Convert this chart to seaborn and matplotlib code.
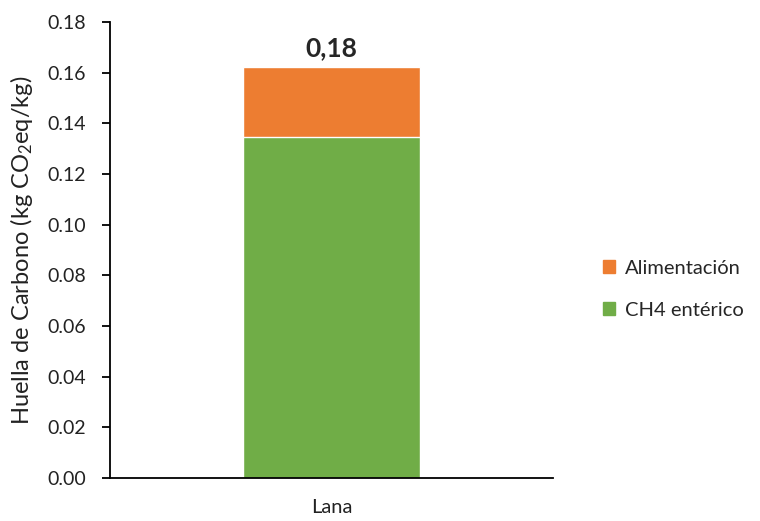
import matplotlib
matplotlib.use("Agg")
import matplotlib.pyplot as plt
from matplotlib.patches import Patch
import seaborn as sns



# Data
categories = ["Lana"]
ch4_enterico = [0.1346]
alimentacion = [0.0276]
total_labels = ["0,18"]
series_names = ["Alimentación", "CH4 entérico"]
y_ticks = [0.00, 0.02, 0.04, 0.06, 0.08, 0.10, 0.12, 0.14, 0.16, 0.18]

totals = [a + b for a, b in zip(ch4_enterico, alimentacion)]

color_alim = "#ED7D31"
color_ch4 = "#70AD47"



# Style
sns.set_style("white")
plt.rcParams["font.family"] = ["Lato", "DejaVu Sans"]
plt.rcParams["mathtext.default"] = "regular"



# Figure and axes
fig = plt.figure(figsize=(7.6, 5.21), dpi=100)
ax = fig.add_axes([0.1447, 0.0825, 0.5829, 0.8753])



# Stacked bar: total in orange, green on top of it from zero
sns.barplot(x=categories, y=totals, color=color_alim, width=0.4,
            saturation=1, ax=ax)
sns.barplot(x=categories, y=ch4_enterico, color=color_ch4, width=0.4,
            saturation=1, ax=ax)

for i, label in enumerate(total_labels):
    ax.annotate(label, xy=(i, totals[i]), xytext=(0, 5),
                textcoords="offset points", ha="center", va="bottom",
                fontsize=19, fontweight="bold")



# Axes formatting
ax.set_xlim(-0.5, 0.5)
ax.set_ylim(0, 0.18)
ax.set_yticks(y_ticks)
ax.set_yticklabels([f"{t:.2f}" for t in y_ticks])
ax.set_ylabel("Huella de Carbono (kg CO$_2$eq/kg)", fontsize=17, labelpad=9,
              color="#222222")
ax.set_xlabel("")

for side in ["top", "right"]:
    ax.spines[side].set_visible(False)
for side in ["left", "bottom"]:
    ax.spines[side].set_color("black")
    ax.spines[side].set_linewidth(1.3)

ax.tick_params(axis="y", which="major", left=True, length=6, width=1.3,
               color="black", labelsize=14, pad=11, labelcolor="#222222")
ax.tick_params(axis="x", length=0, labelsize=14.5, pad=15,
               labelcolor="#222222")



# Legend
handles = [Patch(color=color_alim), Patch(color=color_ch4)]
fig.legend(handles, series_names, loc="center left",
           bbox_to_anchor=(0.793, 0.445), frameon=False, fontsize=14.5,
           handlelength=0.6, handleheight=0.6, handletextpad=0.5,
           labelspacing=1.25, borderpad=0, borderaxespad=0)

fig.savefig("out.png", dpi=100)
